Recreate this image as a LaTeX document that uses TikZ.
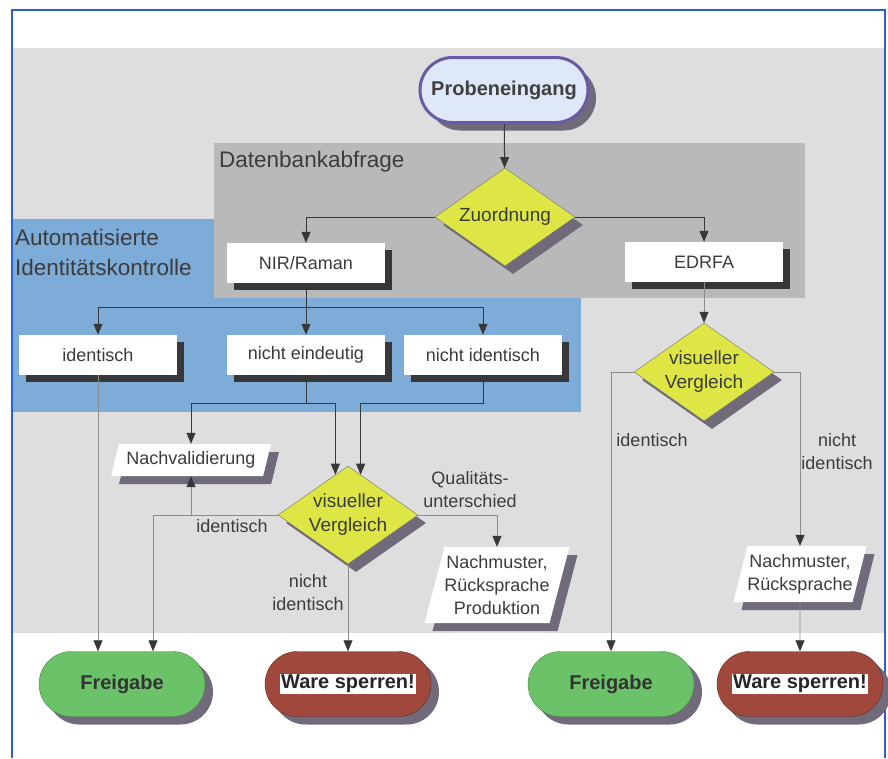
\documentclass[tikz,border=0pt]{standalone}
\usepackage{fontspec}
\setmainfont{Liberation Sans}
\usepackage{tikz}
\usetikzlibrary{arrows.meta,positioning,shapes.geometric,shapes.misc,shadows,calc}
\definecolor{bggray}{RGB}{222,222,222}
\definecolor{dbgray}{RGB}{185,185,185}
\definecolor{autoblue}{RGB}{126,172,217}
\definecolor{frameblue}{RGB}{45,95,200}
\definecolor{txtgray}{RGB}{60,60,60}
\definecolor{linegray}{RGB}{55,55,55}
\definecolor{decyellow}{RGB}{222,230,70}
\definecolor{startfill}{RGB}{222,232,248}
\definecolor{startdraw}{RGB}{105,90,165}
\definecolor{okgreen}{RGB}{108,194,104}
\definecolor{stopred}{RGB}{160,72,60}
\definecolor{shadowgray}{RGB}{112,106,122}
\definecolor{shadowdark}{RGB}{55,55,58}

\begin{document}
\begin{tikzpicture}[x=1pt, y=-1pt,
    >={Triangle[length=11pt,width=9pt,color=linegray]},
    txt/.style={text=txtgray, font=\fontsize{18}{23}\selectfont, align=center},
    region/.style={text=txtgray, font=\fontsize{22.5}{30}\selectfont, align=left, anchor=west, inner sep=0pt},
    resbox/.style={txt, rectangle, fill=white, minimum width=158pt, minimum height=40pt, inner sep=0pt,
        drop shadow={shadow xshift=7pt, shadow yshift=-7pt, fill=shadowdark, opacity=1}},
    decision/.style={txt, font=\fontsize{19}{24}\selectfont, diamond, shape aspect=1.43, fill=decyellow,
        draw=black!55, minimum width=140pt, minimum height=98pt, inner sep=0pt,
        drop shadow={shadow xshift=8pt, shadow yshift=-8pt, fill=shadowgray, opacity=1}},
    outbox/.style={txt, trapezium, trapezium left angle=73, trapezium right angle=107, trapezium stretches=true,
        fill=white, inner xsep=0pt, inner ysep=3pt,
        drop shadow={shadow xshift=8pt, shadow yshift=-8pt, fill=shadowgray, opacity=1}},
    pill/.style={rounded rectangle, minimum width=166pt, minimum height=65pt, inner sep=0pt,
        font=\bfseries\fontsize{20}{24}\selectfont,
        drop shadow={shadow xshift=8pt, shadow yshift=-8pt, fill=shadowgray, opacity=1}},
    okpill/.style={pill, fill=okgreen, draw=okgreen!70!black, text=black!80},
    stoppill/.style={pill, fill=stopred, draw=stopred!60!black, text=black!85},
    conn/.style={->, draw=linegray, line width=1pt},
    thinconn/.style={->, draw=black!45, line width=0.6pt},
  ]
    \useasboundingbox (0,0) rectangle (888,758);
    \fill[white] (0,0) rectangle (888,758);
    \fill[bggray] (13,48) rectangle (884,633);
    \fill[autoblue] (13,219) rectangle (581,412);
    \fill[dbgray] (214,143) rectangle (805,298);
    \draw[frameblue, line width=2pt] (12,758) -- (12,10) -- (885,10) -- (885,758);

    \node[region] (dbtitle) at (219,162) {Datenbankabfrage};
    \node[region] (autotitle) at (15,252) {Automatisierte\\Identitätskontrolle};

    \node[pill, fill=startfill, draw=startdraw, line width=3pt, minimum width=168pt, text=black!75] (start) at (504,90) {Probeneingang};
    \node[decision] (match) at (505,217) {Zuordnung};
    \node[resbox] (nir) at (306,263) {NIR/Raman};
    \node[resbox] (edrfa) at (704,262) {EDRFA};

    \node[resbox] (autoid) at (98,355) {identisch};
    \node[resbox] (autounclear) at (306,355) {nicht eindeutig};
    \node[resbox] (autonotid) at (483,355) {nicht identisch};

    \node[outbox, minimum width=160pt, minimum height=32pt] (reval) at (191,460) {Nachvalidierung};
    \node[decision] (vis1) at (348,515) {visueller\\Vergleich};
    \node[outbox, minimum height=76pt] (redo1) at (497,585) {Nachmuster,\\Rücksprache\\Produktion};

    \node[decision] (vis2) at (704,372) {visueller\\Vergleich};
    \node[outbox, minimum height=56pt] (redo2) at (800,574) {Nachmuster,\\Rücksprache};

    \node[okpill] (frei1) at (122,684) {Freigabe};
    \node[stoppill] (stop1) at (348,684) {\fboxsep=1.5pt\colorbox{white}{Ware sperren!}};
    \node[okpill] (frei2) at (611,684) {Freigabe};
    \node[stoppill] (stop2) at (800,684) {\fboxsep=1.5pt\colorbox{white}{Ware sperren!}};

    \node[txt] (lblid1) at (232,526) {identisch};
    \node[txt] (lblnot1) at (308,593) {nicht\\identisch};
    \node[txt] (lblqual) at (470,490) {Qualitäts-\\unterschied};
    \node[txt] (lblid2) at (652,440) {identisch};
    \node[txt] (lblnot2) at (837,452) {nicht\\identisch};

    \coordinate (nirsplit) at (306,307);
    \coordinate (unclsplit) at (306,403);
    \coordinate (notidsplit) at (483,403);
    \coordinate (visleft) at (153,515);
    \coordinate (inleft) at ($(vis1.north)!0.18!(vis1.west)$);
    \coordinate (inright) at ($(vis1.north)!0.18!(vis1.east)$);

    \draw[conn] (start) -- (match);
    \draw[conn] (match.west) -| (nir);
    \draw[conn] (match.east) -| (edrfa);
    \draw[conn] (nir) -- (autounclear);
    \draw[conn] (nirsplit) -| (autoid);
    \draw[conn] (nirsplit) -| (autonotid);
    \draw[conn] (autounclear.south) -- (unclsplit) -| (reval);
    \draw[conn] (unclsplit) -| (inleft);
    \draw[conn] (autonotid.south) -- (notidsplit) -| (inright);

    \draw[thinconn] (autoid) -- (autoid |- frei1.north);
    \draw[thinconn] (vis1.west) -- (visleft) -- (visleft |- frei1.north);
    \draw[thinconn] (reval.south |- vis1.west) -- (reval.south);
    \draw[thinconn] (vis1) -- (stop1);
    \draw[thinconn] (vis1.east) -| (redo1);

    \draw[thinconn] (edrfa) -- (vis2);
    \draw[thinconn] (vis2.west) -| (frei2);
    \draw[thinconn] (vis2.east) -| (redo2);
    \draw[thinconn] (redo2) -- (stop2);
\end{tikzpicture}
\end{document}
